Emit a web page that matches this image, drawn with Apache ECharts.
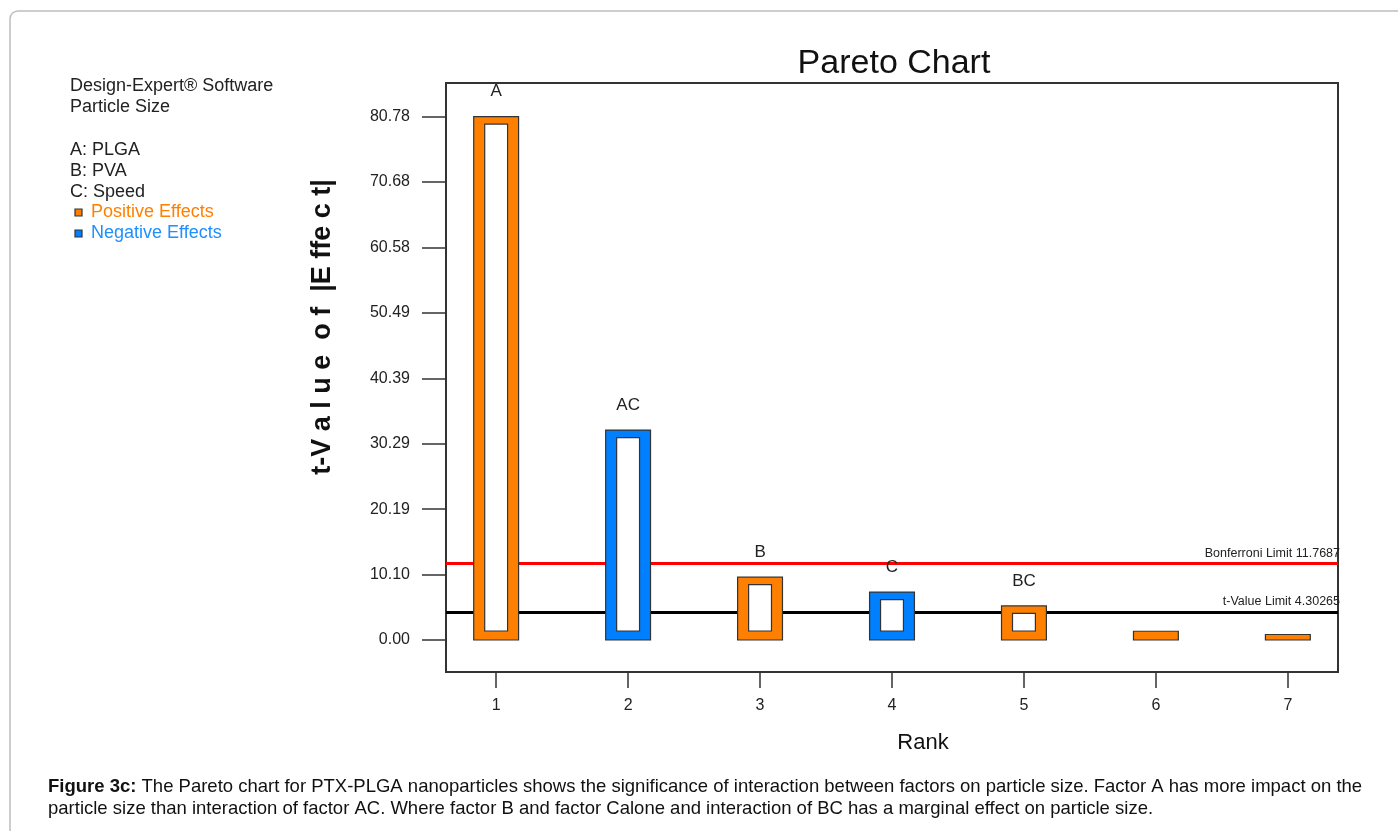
<!DOCTYPE html>
<html>
<head>
    <meta charset="utf-8">
    <title>Pareto Chart</title>
    <script src="https://cdn.jsdelivr.net/npm/echarts@6/dist/echarts.min.js"></script>
    <style>
        body, html { margin: 0; padding: 0; width: 100%; height: 100%; overflow: hidden; background: #fff; }
        #main { width: 1398px; height: 831px; }
    </style>
</head>
<body>
    <div id="main"></div>
    <script>
        // data
        const ranks = [1, 2, 3, 4, 5, 6, 7];
        const effects = [80.78, 32.4, 9.7, 7.4, 5.25, 1.35, 0.85];
        const termNames = ['A', 'AC', 'B', 'C', 'BC', '', ''];
        const signs = [1, -1, 1, -1, 1, 1, 1];   // 1 = positive, -1 = negative
        const yTickLabels = ['0.00', '10.10', '20.19', '30.29', '40.39', '50.49', '60.58', '70.68', '80.78'];
        const bonferroni = 11.7687;
        const tLimit = 4.30265;

        const FONT = '"Liberation Sans", Arial, sans-serif';
        const POS = '#ff8000', NEG = '#0080ff';
        const barW = 0.34;
        const yTickValues = yTickLabels.map(Number);

        var chart = echarts.init(document.getElementById('main'));

        const option = {
            backgroundColor: '#fff',
            animation: false,
            textStyle: { fontFamily: FONT },
            title: {
                text: 'Pareto Chart',
                left: 889, top: 42, textAlign: 'center',
                textStyle: { fontFamily: FONT, fontSize: 34, fontWeight: 'normal', color: '#111' }
            },
            grid: {
                left: 446, right: 60, top: 83, bottom: 159,
                show: true, borderColor: '#333', borderWidth: 2
            },
            xAxis: {
                type: 'value', min: 0.62, max: 7.38,
                splitLine: { show: false },
                axisLine: { show: true, onZero: false, lineStyle: { color: '#333', width: 2 } },
                axisTick: { customValues: ranks, length: 16, lineStyle: { color: '#333', width: 1.5 } },
                axisLabel: { customValues: ranks, margin: 26, fontSize: 16, color: '#222', fontFamily: FONT }
            },
            yAxis: {
                type: 'value', min: -4.94, max: 85.96,
                splitLine: { show: false },
                axisLine: { show: true, onZero: false, lineStyle: { color: '#333', width: 2 } },
                axisTick: { customValues: yTickValues, length: 24, lineStyle: { color: '#333', width: 1.5 } },
                axisLabel: {
                    customValues: yTickValues, margin: 36, fontSize: 16, color: '#222', fontFamily: FONT,
                    formatter: v => yTickLabels[yTickValues.indexOf(v)] ?? v.toFixed(2)
                }
            },
            series: [
                {
                    type: 'line', data: [], z: 1,
                    markLine: {
                        silent: true, symbol: 'none',
                        data: [
                            { yAxis: bonferroni, lineStyle: { color: '#ff0000', width: 3, type: 'solid' },
                              label: { formatter: 'Bonferroni Limit ' + bonferroni } },
                            { yAxis: tLimit, lineStyle: { color: '#000', width: 3, type: 'solid' },
                              label: { formatter: 't-Value Limit ' + tLimit } }
                        ],
                        label: { position: 'insideEndTop', distance: [-2, 4], fontSize: 12.5, color: '#222', fontFamily: FONT }
                    }
                },
                {
                    type: 'custom', z: 5,
                    data: ranks.map((r, i) => [r, effects[i], signs[i]]),
                    renderItem: function (params, api) {
                        const x = api.value(0), v = api.value(1);
                        const neg = api.value(2) < 0;
                        const name = termNames[params.dataIndex];
                        const top = api.coord([x, v]);
                        const base = api.coord([x, 0]);
                        const w = api.size([barW, 0])[0];
                        const h = base[1] - top[1];
                        const children = [{
                            type: 'rect',
                            shape: { x: top[0] - w / 2, y: top[1], width: w, height: h },
                            style: { fill: neg ? NEG : POS, stroke: '#333', lineWidth: 1.2 }
                        }];
                        if (h > 20) {
                            const ix = w * 0.245;
                            children.push({
                                type: 'rect',
                                shape: { x: top[0] - w / 2 + ix, y: top[1] + 7.5, width: w - 2 * ix, height: h - 16.5 },
                                style: { fill: '#fff', stroke: '#333', lineWidth: 1.2 }
                            });
                        }
                        if (name) {
                            children.push({
                                type: 'text',
                                style: { x: top[0], y: top[1] - 25, text: name, align: 'center', verticalAlign: 'middle',
                                         fill: '#222', font: '17px ' + FONT }
                            });
                        }
                        return { type: 'group', children: children };
                    }
                }
            ],
            graphic: [
                { type: 'rect', silent: true, shape: { x: 10, y: 11, width: 1430, height: 860, r: 8 },
                  style: { fill: 'none', stroke: '#bdbdbd', lineWidth: 1.5 } },
                { type: 'text', left: 70, top: 76, style: { text: 'Design-Expert® Software\nParticle Size', font: '18px ' + FONT, fill: '#222', lineHeight: 21 } },
                { type: 'text', left: 70, top: 140, style: { text: 'A: PLGA\nB: PVA\nC: Speed', font: '18px ' + FONT, fill: '#222', lineHeight: 21 } },
                { type: 'rect', shape: { x: 75, y: 209, width: 7, height: 7 }, style: { fill: POS, stroke: '#333', lineWidth: 1.2 } },
                { type: 'text', left: 91, top: 203, style: { text: 'Positive Effects', font: '18px ' + FONT, fill: '#ff8000' } },
                { type: 'rect', shape: { x: 75, y: 230, width: 7, height: 7 }, style: { fill: NEG, stroke: '#333', lineWidth: 1.2 } },
                { type: 'text', left: 91, top: 224, style: { text: 'Negative Effects', font: '18px ' + FONT, fill: '#1e8fff' } },
                { type: 'text', x: 323, y: 327, rotation: Math.PI / 2,
                  style: { text: 't-V a l u e  o f  |E ffe c t|', font: 'bold 27px ' + FONT, fill: '#111',
                           align: 'center', verticalAlign: 'middle' } },
                { type: 'text', x: 923, y: 743,
                  style: { text: 'Rank', font: '22px ' + FONT, fill: '#111', align: 'center', verticalAlign: 'middle' } },
                { type: 'text', left: 48, top: 776,
                  style: {
                      text: '{b|Figure 3c:} The Pareto chart for PTX-PLGA nanoparticles shows the significance of interaction between factors on particle size. Factor A has more impact on the\nparticle size than interaction of factor AC. Where factor B and factor Calone and interaction of BC has a marginal effect on particle size.',
                      font: '18.5px ' + FONT, fill: '#111', lineHeight: 22,
                      rich: { b: { font: 'bold 18.5px ' + FONT, fill: '#111' } }
                  } }
            ]
        };

        chart.setOption(option);
        window.addEventListener('resize', function () { chart.resize(); });
    </script>
</body>
</html>
